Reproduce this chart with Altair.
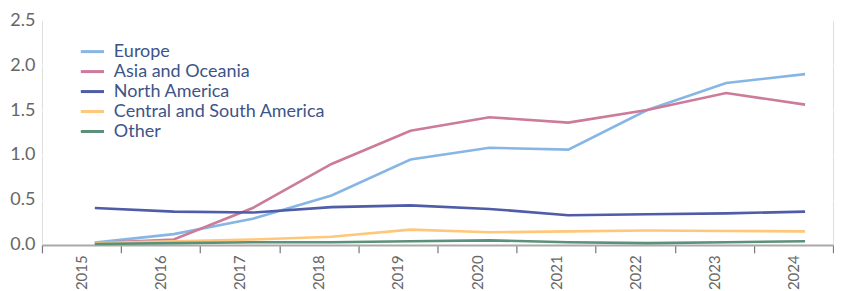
import altair as alt
import pandas as pd

years = [2015, 2016, 2017, 2018, 2019, 2020, 2021, 2022, 2023, 2024]
regions = ["Europe", "Asia and Oceania", "North America", "Central and South America", "Other"]
colors = ["#88b6e4", "#cc7b9b", "#4f5ca8", "#ffc77a", "#5b917a"]

europe = [0.025, 0.12, 0.29, 0.55, 0.95, 1.08, 1.06, 1.50, 1.80, 1.90]
asia_oceania = [0.02, 0.06, 0.41, 0.90, 1.27, 1.42, 1.36, 1.50, 1.69, 1.56]
north_america = [0.41, 0.37, 0.36, 0.42, 0.44, 0.40, 0.33, 0.34, 0.35, 0.37]
central_south_america = [0.02, 0.04, 0.06, 0.09, 0.17, 0.14, 0.15, 0.16, 0.155, 0.15]
other = [0.01, 0.02, 0.03, 0.03, 0.04, 0.05, 0.03, 0.02, 0.03, 0.04]

series = [europe, asia_oceania, north_america, central_south_america, other]
rows = []
for name, vals in zip(regions, series):
    for yr, v in zip(years, vals):
        rows.append({"year": yr, "region": name, "value": v})
df = pd.DataFrame(rows)
axis_df = pd.DataFrame({"yearLabel": [str(y) for y in years]})

FONT = "Lato"

lines = alt.Chart(df).mark_line(strokeWidth=2.6).encode(
    x=alt.X("year:Q", scale=alt.Scale(domain=[2014.33, 2024.354], nice=False, zero=False), axis=None),
    y=alt.Y("value:Q", scale=alt.Scale(domain=[0, 2.5], nice=False),
            axis=alt.Axis(values=[0, 0.5, 1.0, 1.5, 2.0, 2.5], format=".1f", title=None,
                          domain=False, ticks=False, grid=True, gridColor="#ffffff", gridWidth=2,
                          labelFontSize=18, labelColor="#666666", labelFont=FONT, labelPadding=7)),
    color=alt.Color("region:N", sort=regions,
                    scale=alt.Scale(domain=regions, range=colors),
                    legend=alt.Legend(title=None, orient="none", legendX=41, legendY=22,
                                      symbolType="M-1.45,0H1.45", symbolSize=256, symbolStrokeWidth=3,
                                      symbolFillColor="transparent",
                                      labelFontSize=18, labelColor="#3d5488", labelFont=FONT,
                                      rowPadding=1, labelLimit=400, labelOffset=12)),
)

xaxis = alt.Chart(axis_df).mark_point(opacity=0).encode(
    x=alt.X("yearLabel:O", sort=[str(y) for y in years],
            scale=alt.Scale(type="band", paddingInner=0, paddingOuter=0),
            axis=alt.Axis(title=None, labelAngle=-90, tickBand="extent", ticks=True, tickSize=8,
                          tickColor="#777777", tickWidth=1.2, domainColor="#aaaaaa", domainWidth=2,
                          labelFontSize=15, labelColor="#666666", labelFont=FONT, labelPadding=2,
                          grid=False)),
    y=alt.value(0),
)

chart = alt.layer(lines, xaxis).resolve_scale(x="independent").properties(
    width=792, height=225,
    padding={"left": 1, "right": 0, "top": 3, "bottom": 0},
).configure_view(fill="#f5f5f5", stroke=None).configure(font=FONT)

chart.save("out.html", embed_options={"renderer": "svg", "actions": False})
